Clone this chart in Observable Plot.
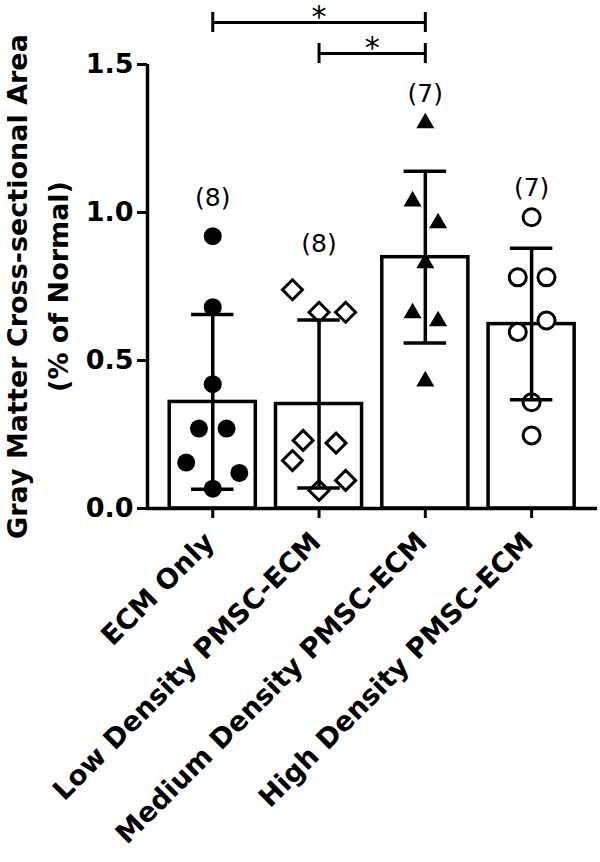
<!DOCTYPE html>
<html><head><meta charset="utf-8">
<script src="https://cdn.jsdelivr.net/npm/d3@7"></script>
<script src="https://cdn.jsdelivr.net/npm/@observablehq/plot@0.6"></script>
<style>body{margin:0;background:#fff}</style>
</head><body><div id="chart"></div>
<script>
const categories = ["ECM Only", "Low Density PMSC-ECM", "Medium Density PMSC-ECM", "High Density PMSC-ECM"];
const means = [0.36, 0.353, 0.849, 0.623];
const sds = [0.295, 0.284, 0.29, 0.256];
const counts = [8, 8, 7, 7];
const countLabelY = [1.05, 0.892, 1.402, 1.084];
const ecmValues = [0.92, 0.68, 0.42, 0.27, 0.27, 0.155, 0.12, 0.067];
const ecmJitter = [0, 0, 0, -0.13, 0.13, -0.25, 0.25, 0];
const lowValues = [0.739, 0.663, 0.663, 0.23, 0.162, 0.221, 0.095, 0.061];
const lowJitter = [-0.25, 0, 0.25, -0.15, -0.25, 0.16, 0.25, 0];
const medValues = [1.302, 1.038, 0.964, 0.829, 0.66, 0.633, 0.43];
const medJitter = [0, -0.12, 0.12, 0, -0.12, 0.12, 0];
const highValues = [0.984, 0.781, 0.781, 0.596, 0.635, 0.359, 0.247];
const highJitter = [0, -0.13, 0.14, -0.13, 0.14, 0, 0];
const yTicks = [0, 0.5, 1, 1.5];
const comparisons = [
  {from: 0, to: 2, level: 1.642, label: "*"},
  {from: 1, to: 2, level: 1.537, label: "*"}
];

const barHalf = 0.405, capHalf = 0.2, bracketTick = 0.034;
const xDomain = [-0.614, 3.62];
const bars = categories.map((c, i) => ({i, mean: means[i], sd: sds[i], n: counts[i], ly: countLabelY[i]}));
const pts = (vals, jit, i) => vals.map((v, k) => ({x: i + jit[k], y: v}));
const ecmPts = pts(ecmValues, ecmJitter, 0);
const lowPts = pts(lowValues, lowJitter, 1);
const medPts = pts(medValues, medJitter, 2);
const highPts = pts(highValues, highJitter, 3);
const caps = bars.flatMap(b => [{i: b.i, y: b.mean - b.sd}, {i: b.i, y: b.mean + b.sd}]);
const bracketEnds = comparisons.flatMap(c => [{x: c.from, level: c.level}, {x: c.to, level: c.level}]);

const FONT = "DejaVu Sans";
const plot = Plot.plot({
  width: 600,
  height: 862,
  marginLeft: 147,
  marginRight: 3,
  marginTop: 64,
  marginBottom: 354,
  style: {fontFamily: FONT, fontWeight: "bold", color: "#000", background: "#fff"},
  x: {domain: xDomain, axis: null},
  y: {domain: [0, 1.5], axis: null},
  marks: [
    Plot.rectY(bars, {x1: d => d.i - barHalf, x2: d => d.i + barHalf, y: "mean", fill: "white", stroke: "black", strokeWidth: 3.5}),
    Plot.dot(ecmPts, {x: "x", y: "y", r: 9, fill: "black", symbol: "circle"}),
    Plot.dot(lowPts, {x: "x", y: "y", r: 9, fill: "white", stroke: "black", strokeWidth: 3, symbol: "diamond2"}),
    Plot.dot(medPts, {x: "x", y: "y", r: 6.7, fill: "black", symbol: "triangle"}),
    Plot.dot(highPts, {x: "x", y: "y", r: 8.5, fill: "white", stroke: "black", strokeWidth: 3, symbol: "circle"}),
    Plot.ruleX(bars, {x: "i", y1: d => d.mean - d.sd, y2: d => d.mean + d.sd, strokeWidth: 3.5}),
    Plot.ruleY(caps, {y: "y", x1: d => d.i - capHalf, x2: d => d.i + capHalf, strokeWidth: 3.5}),
    Plot.text(bars, {x: "i", y: "ly", text: d => `(${d.n})`, fontSize: 25, fontWeight: "normal", lineAnchor: "middle"}),
    Plot.ruleY([0], {strokeWidth: 3.5}),
    Plot.ruleX([xDomain[0]], {y1: 0, y2: 1.5, strokeWidth: 3.5}),
    Plot.axisY({ticks: yTicks, tickFormat: d3.format(".1f"), tickSize: 10, tickPadding: 4, strokeWidth: 3, fontSize: 27, label: null}),
    Plot.axisX({ticks: [0, 1, 2, 3], tickFormat: i => categories[i], tickSize: 10, strokeWidth: 3, fill: "none", label: null}),
    Plot.axisX({ticks: [0, 1, 2, 3], tickFormat: i => categories[i], tickRotate: -45, tickSize: 10, tickPadding: 4, stroke: "none", fontSize: 27.5, dx: -3, dy: 15, label: null}),
    Plot.text([0], {frameAnchor: "left", rotate: -90, text: () => "Gray Matter Cross-sectional Area\n(% of Normal)", fontSize: 27, lineHeight: 1.52, lineAnchor: "middle", textAnchor: "middle", dx: -113}),
    Plot.ruleY(comparisons, {y: "level", x1: "from", x2: "to", strokeWidth: 3}),
    Plot.ruleX(bracketEnds, {x: "x", y1: d => d.level - bracketTick, y2: d => d.level + bracketTick, strokeWidth: 3}),
    Plot.text(comparisons, {x: d => (d.from + d.to) / 2, y: "level", text: "label", fontSize: 30, fontWeight: "normal", lineAnchor: "middle", dy: -5})
  ]
});
document.getElementById("chart").appendChild(plot);
</script>
</body></html>
